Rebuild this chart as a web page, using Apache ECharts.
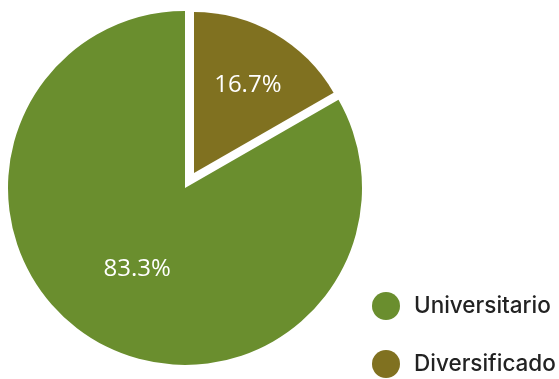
<!DOCTYPE html>
<html><head><meta charset="utf-8">
<script src="https://cdn.jsdelivr.net/npm/echarts@6/dist/echarts.min.js"></script>
<style>html,body{margin:0;padding:0;background:#fff}#c{width:559px;height:379px}</style>
</head><body><div id="c"></div>
<script>
const categories = ['Universitario', 'Diversificado'];
const values = [83.3, 16.7];
const colors = ['#6A8E2E', '#807120'];

const chart = echarts.init(document.getElementById('c'), null, {renderer: 'canvas'});
const hidden = {color: 'rgba(0,0,0,0)'};
const labelStyle = {show: true, position: 'inside', color: '#fff', fontFamily: 'Open Sans', fontSize: 24,
  formatter: p => p.value.toFixed(1) + '%'};

// Series A: main circle (Universitario), Series B: detached Diversificado slice
const dataA = [
  {name: '', value: values[1], itemStyle: hidden, label: {show: false}},
  {name: categories[0], value: values[0], itemStyle: {color: colors[0]}, label: {offset: [-2, 2]}}
];
const dataB = [
  {name: categories[1], value: values[1], itemStyle: {color: colors[1]}, label: {offset: [12, -16]}},
  {name: '', value: values[0], itemStyle: hidden, label: {show: false}}
];

const legendBase = {
  orient: 'vertical', padding: 0, left: 372, icon: 'circle', itemWidth: 46, itemHeight: 28,
  textStyle: {fontFamily: 'Inter', fontSize: 22.5, fontWeight: 500, color: '#222'},
  selectedMode: false
};

chart.setOption({
  animation: false,
  legend: [
    Object.assign({}, legendBase, {top: 292, data: [categories[0]]}),
    Object.assign({}, legendBase, {top: 350, data: [categories[1]]})
  ],
  series: [
    {type: 'pie', center: [185, 188], radius: [0, 177], startAngle: 90, clockwise: true,
     silent: true, data: dataA, label: labelStyle, labelLine: {show: false}, emphasis: {disabled: true}},
    {type: 'pie', center: [194, 173], radius: [0, 161], startAngle: 90, clockwise: true,
     silent: true, data: dataB, label: labelStyle, labelLine: {show: false}, emphasis: {disabled: true}}
  ]
});
</script></body></html>
